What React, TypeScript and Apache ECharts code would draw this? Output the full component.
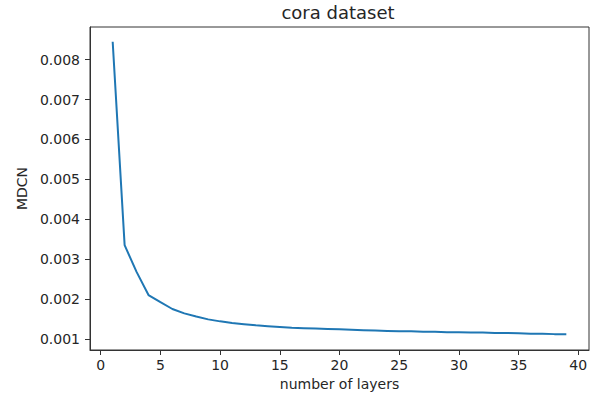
import React, { useEffect, useRef } from "react";
import * as echarts from "echarts";

const layers: number[] = Array.from({ length: 39 }, (_, i) => i + 1);
const mdcn: number[] = [
  0.00845, 0.00335, 0.00268, 0.0021, 0.00192, 0.00175, 0.00164, 0.00156, 0.00149, 0.00144,
  0.0014, 0.00137, 0.00134, 0.00132, 0.0013, 0.00128, 0.00127, 0.00126, 0.00125, 0.00124,
  0.00123, 0.00122, 0.00121, 0.0012, 0.00119, 0.00119, 0.00118, 0.00118, 0.00117, 0.00117,
  0.00116, 0.00116, 0.00115, 0.00115, 0.00114, 0.00113, 0.00113, 0.00112, 0.00112,
];
const xTicks: number[] = [0, 5, 10, 15, 20, 25, 30, 35, 40];
const yTicks: number[] = [0.001, 0.002, 0.003, 0.004, 0.005, 0.006, 0.007, 0.008];
const titleText = "cora dataset";
const xName = "number of layers";
const yName = "MDCN";

const FONT = "DejaVu Sans";
const TEXT = "#262626";

export default function App() {
  const ref = useRef<HTMLDivElement>(null);
  useEffect(() => {
    const chart = echarts.init(ref.current!, null, { renderer: "svg" });
    chart.setOption({
      animation: false,
      backgroundColor: "#fff",
      textStyle: { fontFamily: FONT },
      graphic: [
        {
          type: "text",
          x: 338,
          y: 12,
          style: {
            text: titleText,
            font: `18px '${FONT}'`,
            fill: TEXT,
            textAlign: "center",
            textVerticalAlign: "middle",
          },
        },
      ],
      grid: {
        left: 90,
        top: 27,
        right: 8,
        bottom: 50,
        show: true,
        borderColor: "#333",
        borderWidth: 1,
        backgroundColor: "#fff",
      },
      xAxis: {
        type: "value",
        min: -0.9,
        max: 40.9,
        name: xName,
        nameLocation: "middle",
        nameGap: 26,
        nameTextStyle: { fontSize: 14, color: TEXT, fontFamily: FONT },
        axisLine: { show: true, onZero: false, lineStyle: { color: "#333", width: 1 } },
        axisTick: {
          show: true,
          inside: false,
          length: 5,
          customValues: xTicks,
          lineStyle: { color: "#333" },
        },
        axisLabel: {
          customValues: xTicks,
          fontSize: 14,
          color: TEXT,
          fontFamily: FONT,
          margin: 8,
        },
        splitLine: { show: false },
      },
      yAxis: {
        type: "value",
        min: 0.000722,
        max: 0.00882,
        name: yName,
        nameLocation: "middle",
        nameGap: 61,
        nameTextStyle: { fontSize: 14, color: TEXT, fontFamily: FONT },
        axisLine: { show: true, onZero: false, lineStyle: { color: "#333", width: 1 } },
        axisTick: {
          show: true,
          inside: false,
          length: 5,
          customValues: yTicks,
          lineStyle: { color: "#333" },
        },
        axisLabel: {
          customValues: yTicks,
          fontSize: 14,
          color: TEXT,
          fontFamily: FONT,
          margin: 10,
          formatter: (v: number) => v.toFixed(3),
        },
        splitLine: { show: false },
      },
      series: [
        {
          type: "line",
          data: layers.map((x, i) => [x, mdcn[i]]),
          showSymbol: false,
          symbol: "none",
          lineStyle: { color: "#1f77b4", width: 2 },
        },
      ],
    });
    return () => chart.dispose();
  }, []);
  return (
    <div
      ref={ref}
      style={{ position: "absolute", left: 0, top: 0, width: 597, height: 400 }}
    />
  );
}
